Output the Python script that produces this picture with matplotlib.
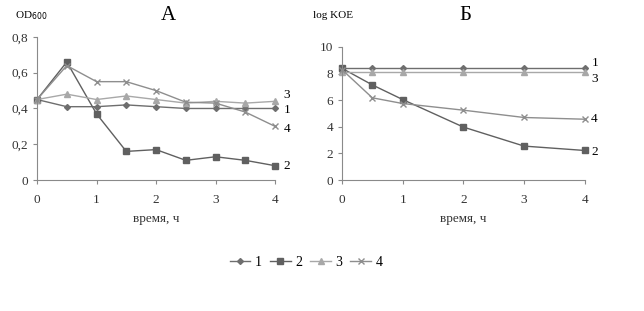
import matplotlib
matplotlib.use("Agg")
import matplotlib.pyplot as plt

# panel A: OD600
t_a = [0, 0.5, 1, 1.5, 2, 2.5, 3, 3.5, 4]
od_1 = [0.45, 0.41, 0.41, 0.42, 0.41, 0.40, 0.40, 0.40, 0.40]
od_2 = [0.45, 0.66, 0.37, 0.16, 0.17, 0.11, 0.13, 0.11, 0.08]
od_3 = [0.45, 0.48, 0.45, 0.47, 0.45, 0.43, 0.44, 0.43, 0.44]
od_4 = [0.45, 0.64, 0.55, 0.55, 0.50, 0.435, 0.43, 0.38, 0.30]

# panel Б: log KOE
t_b = [0, 0.5, 1, 2, 3, 4]
cfu_1 = [8.4, 8.4, 8.4, 8.4, 8.4, 8.4]
cfu_2 = [8.4, 7.15, 6.05, 3.98, 2.55, 2.22]
cfu_3 = [8.1, 8.1, 8.1, 8.1, 8.1, 8.1]
cfu_4 = [8.3, 6.18, 5.75, 5.25, 4.7, 4.57]

names = ["1", "2", "3", "4"]
styles = [
    dict(color="#6e6e6e", marker="D", markersize=3),
    dict(color="#606060", marker="s", markersize=5),
    dict(color="#a8a8a8", marker="^", markersize=4.5),
    dict(color="#8e8e8e", marker="x", markersize=5, markeredgewidth=1),
]

plt.rcParams["font.family"] = ["Liberation Serif", "DejaVu Serif"]
AX_COLOR = "#8a8a8a"


def _style_axes(ax, ymax, yticks, ylabels):
    for side in ("top", "right"):
        ax.spines[side].set_visible(False)
    for side in ("left", "bottom"):
        ax.spines[side].set_color(AX_COLOR)
        ax.spines[side].set_linewidth(0.8)
    ax.set_xlim(0, 4)
    ax.set_ylim(0, ymax)
    ax.set_xticks([0, 1, 2, 3, 4])
    ax.set_yticks(yticks)
    ax.set_yticklabels(ylabels)
    ax.tick_params(colors=AX_COLOR, labelcolor="#333333", labelsize=9.5,
                   length=3, width=0.8)
    ax.tick_params(axis="x", pad=7)
    ax.set_xlabel("время, ч", fontsize=9.5, color="#333333", labelpad=5)


fig = plt.figure(figsize=(6.44, 3.11), dpi=100)
ax_a = fig.add_axes([0.0575, 0.4212, 0.3696, 0.46])
ax_b = fig.add_axes([0.531, 0.4212, 0.377, 0.4277])

series_a = [od_1, od_2, od_3, od_4]
series_b = [cfu_1, cfu_2, cfu_3, cfu_4]
lines = []
for name, st, ya, yb in zip(names, styles, series_a, series_b):
    ln, = ax_a.plot(t_a, ya, linewidth=1, label=name, clip_on=False, **st)
    ax_b.plot(t_b, yb, linewidth=1, clip_on=False, **st)
    lines.append(ln)

_style_axes(ax_a, 0.8, [0, 0.2, 0.4, 0.6, 0.8], ["0", "0,2", "0,4", "0,6", "0,8"])
_style_axes(ax_b, 10, [0, 2, 4, 6, 8, 10], ["0", "2", "4", "6", "8", "10"])

# series numbers at line ends
offs_a = {"1": (6, -1), "2": (6, 0), "3": (6, 4.5), "4": (6, -2)}
offs_b = {"1": (5, 3.5), "2": (5, -1), "3": (5, -4.5), "4": (4, 0)}
for name, ya, yb in zip(names, series_a, series_b):
    ax_a.annotate(name, (t_a[-1], ya[-1]), xytext=offs_a[name],
                  textcoords="offset points", fontsize=9.5, va="center",
                  annotation_clip=False)
    ax_b.annotate(name, (t_b[-1], yb[-1]), xytext=offs_b[name],
                  textcoords="offset points", fontsize=9.5, va="center",
                  annotation_clip=False)

fig.text(168 / 644, 1 - 15 / 311, "А", fontsize=15, ha="center", va="center")
fig.text(465 / 644, 1 - 15 / 311, "Б", fontsize=15, ha="center", va="center")
fig.text(15 / 644, 1 - 16 / 311, "OD$_{600}$", fontsize=8, ha="left", va="center")
fig.text(313 / 644, 1 - 15 / 311, "log KOE", fontsize=8, ha="left", va="center")

fig.legend(handles=lines, labels=names, loc="center", ncol=4, frameon=False,
           bbox_to_anchor=(306 / 644, 1 - 262 / 311), fontsize=10,
           handlelength=1.5, handletextpad=0.3, columnspacing=0.6)

fig.savefig("out.png", dpi=100)
